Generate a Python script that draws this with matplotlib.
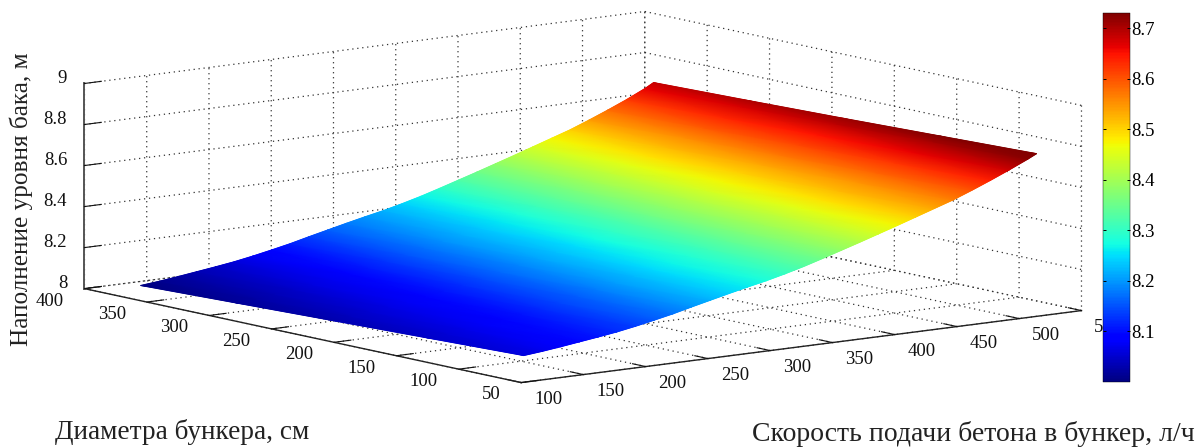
import numpy as np
import matplotlib
matplotlib.use("Agg")
import matplotlib.pyplot as plt
from matplotlib.cm import ScalarMappable
from matplotlib.colors import Normalize
from mpl_toolkits.mplot3d import proj3d

# speed of feed, l/h
speed = [102, 117, 132, 147, 162, 177, 192, 207, 222, 237, 252, 267, 282, 297, 312,
         327, 342, 357, 372, 387, 402, 417, 432, 447, 462, 477, 492, 507, 514]
# bunker diameter, cm
diameter = [50, 127, 204, 280, 357]

level_d50 = [8.130, 8.139, 8.150, 8.162, 8.174, 8.187, 8.203, 8.221, 8.240, 8.262,
             8.283, 8.304, 8.324, 8.343, 8.365, 8.389, 8.416, 8.444, 8.472, 8.501,
             8.530, 8.560, 8.590, 8.620, 8.655, 8.692, 8.731, 8.772, 8.793]
level_d127 = [8.115, 8.124, 8.135, 8.147, 8.159, 8.172, 8.188, 8.206, 8.225, 8.247,
              8.268, 8.289, 8.309, 8.328, 8.350, 8.374, 8.401, 8.429, 8.457, 8.486,
              8.515, 8.545, 8.575, 8.605, 8.640, 8.677, 8.716, 8.757, 8.778]
level_d204 = [8.100, 8.109, 8.120, 8.132, 8.144, 8.157, 8.173, 8.191, 8.210, 8.232,
              8.253, 8.274, 8.294, 8.313, 8.335, 8.359, 8.386, 8.414, 8.442, 8.471,
              8.500, 8.530, 8.560, 8.590, 8.625, 8.662, 8.701, 8.742, 8.763]
level_d280 = [8.085, 8.094, 8.105, 8.117, 8.129, 8.142, 8.158, 8.176, 8.195, 8.217,
              8.238, 8.259, 8.279, 8.298, 8.320, 8.344, 8.371, 8.399, 8.427, 8.456,
              8.485, 8.515, 8.545, 8.575, 8.610, 8.647, 8.686, 8.727, 8.750]
level_d357 = [8.070, 8.079, 8.090, 8.102, 8.114, 8.127, 8.143, 8.161, 8.180, 8.202,
              8.223, 8.244, 8.264, 8.283, 8.305, 8.329, 8.356, 8.384, 8.412, 8.441,
              8.470, 8.500, 8.530, 8.560, 8.595, 8.632, 8.671, 8.714, 8.738]

x_ticks = [100, 150, 200, 250, 300, 350, 400, 450, 500, 550]
y_ticks = [50, 100, 150, 200, 250, 300, 350, 400]
z_ticks = [8, 8.2, 8.4, 8.6, 8.8, 9]
z_tick_labels = ["8", "8.2", "8.4", "8.6", "8.8", "9"]
bar_ticks = [8.1, 8.2, 8.3, 8.4, 8.5, 8.6, 8.7]

plt.rcParams["font.family"] = ["Liberation Serif", "DejaVu Serif"]

W, H = 1198, 447
fig = plt.figure(figsize=(W / 100, H / 100), dpi=100)

side = 997
ax = fig.add_axes([71 / W, -262 / H, side / W, side / H], projection="3d", proj_type="ortho")
ax.view_init(elev=9.57, azim=-127.7)
ax.set_box_aspect((708, 714, 208))

X, Y = np.meshgrid(speed, diameter)
Z = np.array([level_d50, level_d127, level_d204, level_d280, level_d357])
surface_norm = Normalize(8.07, 8.78)

surf = ax.plot_surface(X, Y, Z, rstride=1, cstride=1, cmap="jet", norm=surface_norm,
                       linewidth=0, antialiased=True)
surf.set_edgecolor("face")
surf.set_linewidth(0.4)

ax.set_xlim(100, 550, view_margin=0)
ax.set_ylim(50, 400, view_margin=0)
ax.set_zlim(8, 9, view_margin=0)
ax.set_xticks(x_ticks)
ax.set_yticks(y_ticks)
ax.set_zticks(z_ticks)
ax.set_zticklabels(z_tick_labels)
ax.tick_params(labelsize=13.5, colors="#111111")
ax.tick_params(axis="x", pad=3)
ax.tick_params(axis="y", pad=6)
ax.tick_params(axis="z", pad=-1.5)

for axis in [ax.xaxis, ax.yaxis, ax.zaxis]:
    axis.set_pane_color((1, 1, 1, 0))
    axis.pane.set_edgecolor("none")
    axis.line.set_color("#222222")
    axis.line.set_linewidth(1)
    axis._axinfo["tick"]["inward_factor"] = 0
    axis._axinfo["tick"]["outward_factor"] = 0.375
    axis._axinfo["tick"]["linewidth"] = {True: 0.8, False: 0.8}
    axis._axinfo["grid"].update(color="#333333", linestyle=(0, (1, 3)), linewidth=0.9)
ax.zaxis.line.set_color("#555555")
ax.zaxis.line.set_linewidth(1.4)

for label in ax.get_xticklabels():
    label.set_ha("left")
for label in ax.get_yticklabels():
    label.set_ha("right")
    label.set_va("center_baseline")
for label in ax.get_zticklabels():
    label.set_ha("right")
    label.set_va("baseline")

# smooth colour over the surface: same table points, projected to pixels, gouraud shaded
fig.canvas.draw()
px, py, _ = proj3d.proj_transform(X.ravel(), Y.ravel(), Z.ravel(), ax.get_proj())
pixels = ax.transData.transform(np.column_stack([px, py]))
overlay = fig.add_axes([0, 0, 1, 1], zorder=1)
overlay.set_xlim(0, W)
overlay.set_ylim(0, H)
overlay.axis("off")
overlay.pcolormesh(pixels[:, 0].reshape(X.shape), pixels[:, 1].reshape(X.shape), Z,
                   shading="gouraud", cmap="jet", norm=surface_norm)

fig.text(21 / W, 1 - 199 / H, "Наполнение уровня бака, м", rotation=90, fontsize=18.2,
         ha="center", va="center", color="#222222")
fig.text(55 / W, 1 - 432 / H, "Диаметра бункера, см", fontsize=19.6,
         ha="left", va="center", color="#222222")
fig.text(752 / W, 1 - 434 / H, "Скорость подачи бетона в бункер, л/ч", fontsize=20,
         ha="left", va="center", color="#222222")

cax = fig.add_axes([1103 / W, 1 - 382 / H, 27 / W, 369 / H], zorder=5)
bar = fig.colorbar(ScalarMappable(Normalize(8.0, 8.73), "jet"), cax=cax)
bar.set_ticks(bar_ticks)
bar.ax.tick_params(direction="in", length=2, width=0.7, labelsize=13.5, pad=1, left=True, right=True)
bar.outline.set_linewidth(0.3)

plt.savefig("out.png", dpi=100)
